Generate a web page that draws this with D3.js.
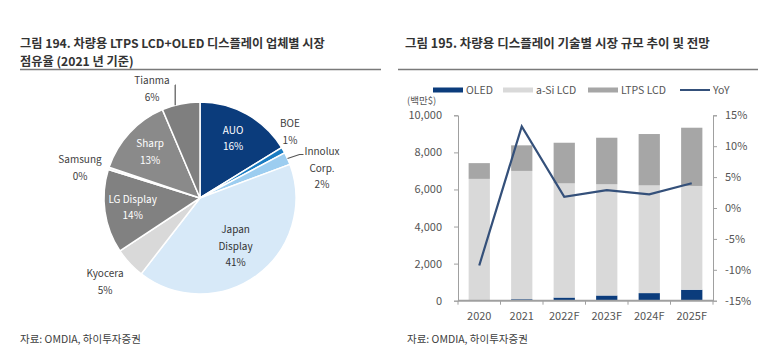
<!DOCTYPE html>
<html><head><meta charset="utf-8">
<script src="https://cdn.jsdelivr.net/npm/d3@7"></script>
<style>
body{margin:0;background:#fff;}
svg{display:block;font-family:"Noto Sans CJK KR","Noto Sans",sans-serif;}
</style></head>
<body>
<svg id="c" width="773" height="356"></svg>
<script>
// ---------- data: pie ----------
const pieNames = ["AUO","BOE","Innolux Corp.","Japan Display","Kyocera","LG Display","Samsung","Sharp","Tianma"];
const pieValues = [16.2, 1.0, 2.1, 41.2, 5.2, 14.1, 0.4, 13.4, 6.4];
const pieLabels = ["16%","1%","2%","41%","5%","14%","0%","13%","6%"];
const pieColors = ["#0b3c7c","#1a7cc2","#9ccdf0","#d7e9f8","#d9d9d9","#818181","#eeeeee","#8a8a8a","#7f7f7f"];

// ---------- data: bars ----------
const years = ["2020","2021","2022F","2023F","2024F","2025F"];
const oled = [10, 80, 170, 280, 410, 590];
const aSiLcd = [6560, 6920, 6160, 6000, 5810, 5600];
const ltpsLcd = [850, 1380, 2190, 2510, 2770, 3140];
const yoy = [-9.3, 13.2, 1.8, 2.9, 2.2, 4.0];
const leftTicks = [0, 2000, 4000, 6000, 8000, 10000];
const rightTicks = [-15, -10, -5, 0, 5, 10, 15];
const seriesNames = ["OLED","a-Si LCD","LTPS LCD","YoY"];
const seriesColors = ["#0b3c7c","#d9d9d9","#a6a6a6","#34507a"];

const svg = d3.select("#c");
const txt = "#404040";

// ---------- titles ----------
function title(x, y, s, fs){
  svg.append("text").attr("x",x).attr("y",y).attr("font-size",fs).attr("font-weight","bold")
     .attr("fill","#333").text(s);
}
title(20,48,"그림 194. 차량용 LTPS LCD+OLED 디스플레이 업체별 시장",12.2);
title(20,66,"점유율 (2021 년 기준)",12.2);
title(405,48,"그림 195. 차량용 디스플레이 기술별 시장 규모 추이 및 전망",12.5);
svg.append("line").attr("x1",20).attr("x2",381).attr("y1",69.5).attr("y2",69.5).attr("stroke","#7a7a7a").attr("stroke-width",1.5);
svg.append("line").attr("x1",398).attr("x2",758).attr("y1",69.5).attr("y2",69.5).attr("stroke","#7a7a7a").attr("stroke-width",1.5);

svg.append("text").attr("x",20).attr("y",343).attr("font-size",10.5).attr("fill",txt).text("자료: OMDIA, 하이투자증권");
svg.append("text").attr("x",407).attr("y",343).attr("font-size",10.5).attr("fill",txt).text("자료: OMDIA, 하이투자증권");

// ---------- pie ----------
const cx = 200, cy = 198, R = 96;
const pg = svg.append("g").attr("transform",`translate(${cx},${cy})`);
const pieData = d3.pie().sort(null).value(d=>d)(pieValues);
const arc = d3.arc().innerRadius(0).outerRadius(R);
pg.selectAll("path").data(pieData).join("path")
  .attr("d",arc).attr("fill",(d,i)=>pieColors[i]).attr("stroke","#fff").attr("stroke-width",1.5);

function polar(angle, r){ return [Math.sin(angle)*r, -Math.cos(angle)*r]; }
function mid(d){ return (d.startAngle+d.endAngle)/2; }
// inside labels
const inside = {0:68, 3:60, 5:68, 7:68};
Object.keys(inside).forEach(k=>{
  const i=+k, d=pieData[i];
  const [x,y] = polar(mid(d), inside[k]);
  const lines = (i===3? ["Japan","Display"] : [pieNames[i]]).concat([pieLabels[i]]);
  const col = i===3 ? "#333" : "#fff";
  const t = pg.append("text").attr("text-anchor","middle").attr("font-size",10).attr("fill",col);
  const lh = 16.5, y0 = y - (lines.length-1)*lh/2 + 3.5;
  lines.forEach((s,j)=>t.append("tspan").attr("x",x).attr("y",y0+j*lh).text(s));
});
// outside labels (offsets relative to pie centre)
const outside = [
  {i:8, x:-48, y:-114, lines:["Tianma"]},
  {i:1, x:90,  y:-71,  lines:["BOE"]},
  {i:2, x:122, y:-43,  lines:["Innolux","Corp."]},
  {i:6, x:-120,y:-35,  lines:["Samsung"]},
  {i:4, x:-95, y:79,   lines:["Kyocera"]}
];
outside.forEach(o=>{
  const lines = o.lines.concat([pieLabels[o.i]]);
  const t = pg.append("text").attr("text-anchor","middle").attr("font-size",10).attr("fill",txt);
  lines.forEach((s,j)=>t.append("tspan").attr("x",o.x).attr("y",o.y+j*16.5).text(s));
});
// leader lines
(function(){
  const d = pieData[8];
  const [ex,ey] = polar(d.startAngle + (d.endAngle-d.startAngle)*0.35, R);
  pg.append("path").attr("d",`M${ex},${ey}V${-113}H${-25}`).attr("fill","none").attr("stroke","#555").attr("stroke-width",1.2);
  const d2 = pieData[2];
  const [fx,fy] = polar(mid(d2), R);
  pg.append("path").attr("d",`M${fx},${fy}L${fx+12},${fy-4}H${fx+16}`).attr("fill","none").attr("stroke","#555").attr("stroke-width",1.2);
})();

// ---------- bar chart ----------
const x0 = 458, x1 = 713, yb = 300.7, yt = 115.3;
const x = d3.scaleBand().domain(years).range([x0,x1]).paddingInner(0.5).paddingOuter(0.25);
const y = d3.scaleLinear().domain([0,10000]).range([yb,yt]);
const y2 = d3.scaleLinear().domain([-15,15]).range([yb,yt]);

const rows = years.map((yr,i)=>({year:yr, OLED:oled[i], "a-Si LCD":aSiLcd[i], "LTPS LCD":ltpsLcd[i]}));
const stack = d3.stack().keys(seriesNames.slice(0,3))(rows);
const bg = svg.append("g");
stack.forEach((s,si)=>{
  bg.selectAll(null).data(s).join("rect")
    .attr("x",d=>x(d.data.year)).attr("width",x.bandwidth())
    .attr("y",d=>y(d[1])).attr("height",d=>y(d[0])-y(d[1]))
    .attr("fill",seriesColors[si]);
});

// left axis
const la = svg.append("g").attr("transform",`translate(${x0},0)`)
  .call(d3.axisLeft(y).tickValues(leftTicks).tickFormat(d3.format(",")).tickSize(4).tickPadding(12));
// right axis
const ra = svg.append("g").attr("transform",`translate(${x1},0)`)
  .call(d3.axisRight(y2).tickValues(rightTicks).tickFormat(d=>d+"%").tickSize(4).tickPadding(8));
[la,ra].forEach(a=>{
  a.selectAll("path,line").attr("stroke","#a0a0a0");
  a.selectAll("text").attr("font-size",11).attr("fill","#555").attr("font-family","'Noto Sans CJK KR',sans-serif");
});

// bottom axis
const step = x.step();
const xa = svg.append("g");
xa.append("line").attr("x1",x0).attr("x2",x1).attr("y1",yb).attr("y2",yb).attr("stroke","#a0a0a0").attr("stroke-width",2);
const bounds = [x(years[0])+x.bandwidth()/2-step/2].concat(years.map(d=>x(d)+x.bandwidth()/2+step/2));
xa.selectAll(null).data(bounds).join("line")
  .attr("x1",d=>d).attr("x2",d=>d).attr("y1",yb).attr("y2",yb+4).attr("stroke","#a0a0a0");
xa.selectAll(null).data(years).join("text")
  .attr("x",d=>x(d)+x.bandwidth()/2).attr("y",320).attr("text-anchor","middle")
  .attr("font-size",11).attr("fill","#555").text(d=>d);

// YoY line
const line = d3.line().x((d,i)=>x(years[i])+x.bandwidth()/2).y(d=>y2(d));
svg.append("path").datum(yoy).attr("d",line).attr("fill","none")
  .attr("stroke",seriesColors[3]).attr("stroke-width",2.2).attr("stroke-linejoin","miter");

// unit
svg.append("text").attr("x",407).attr("y",104).attr("font-size",9.5).attr("fill","#555").text("(백만$)");

// legend
const legX = [433, 503, 588, 680];
seriesNames.forEach((n,i)=>{
  const g = svg.append("g").attr("transform",`translate(${legX[i]},90)`);
  if(i<3) g.append("rect").attr("x",0).attr("y",-2.5).attr("width",30).attr("height",5).attr("fill",seriesColors[i]);
  else g.append("line").attr("x1",0).attr("x2",30).attr("y1",0).attr("y2",0).attr("stroke",seriesColors[i]).attr("stroke-width",2);
  g.append("text").attr("x",33).attr("y",4).attr("font-size",10.5).attr("fill","#555").text(n);
});
</script>
</body></html>
